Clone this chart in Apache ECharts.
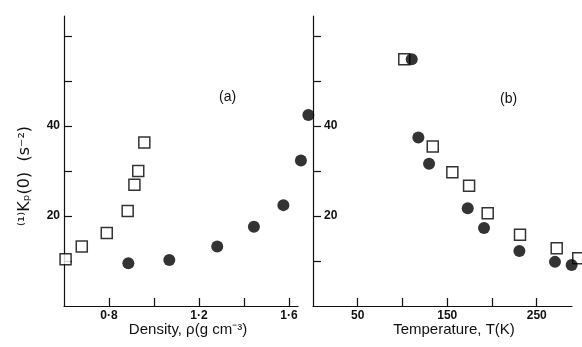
<!DOCTYPE html>
<html><head><meta charset="utf-8">
<script src="https://cdn.jsdelivr.net/npm/echarts@6/dist/echarts.min.js"></script>
<style>html,body{margin:0;padding:0;background:#fff}#c{width:582px;height:347px}</style>
</head><body><div id="c"></div>
<script>
// Panel (a): density
const densitySquares = [[0.607,10.4],[0.679,13.2],[0.790,16.2],[0.883,21.1],[0.913,26.9],[0.930,30.0],[0.957,36.3]];
const densityCircles = [[0.886,9.5],[1.068,10.2],[1.281,13.2],[1.444,17.6],[1.575,22.4],[1.653,32.3],[1.686,42.4]];
// Panel (b): temperature
const tempSquares = [[102,54.8],[133.8,35.4],[155.7,29.7],[174.4,26.7],[195.2,20.6],[231.3,15.8],[272.3,12.8],[296.4,10.6]];
const tempCircles = [[110.3,54.8],[117.7,37.4],[129.7,31.6],[172.9,21.7],[191.1,17.3],[230.6,12.2],[270.4,9.8],[289,9.1]];
const densityTicks = [0.8,1.0,1.2,1.4,1.6];
const densityLabels = [0.8,1.2,1.6];
const tempTicks = [50,100,150,200,250];
const tempLabels = [50,150,250];
const yTicks = [10,20,30,40,50,60];
const yLabels = [20,40];

const ink = '#111';
const font = 'Liberation Sans';
const axisLine = {show:true, lineStyle:{color:ink, width:1.2}};
const tick = (vals)=>({show:true, inside:true, length:8, customValues:vals, lineStyle:{color:ink, width:1.2}});
const lab = (vals, extra)=>Object.assign({show:true, customValues:vals, color:ink, fontFamily:font, fontSize:12, fontWeight:'bold',
  formatter:v=>String(v).replace('.', '·')}, extra||{});

const chart = echarts.init(document.getElementById('c'), null, {renderer:'canvas'});
const sq = {symbol:'rect', symbolSize:11, itemStyle:{color:'#fff', borderColor:'#000', borderWidth:1.5}};
const ci = {symbol:'circle', symbolSize:12, itemStyle:{color:'#000'}};
chart.setOption({
  backgroundColor:'#fff',
  animation:false,
  grid:[
    {left:64, top:16, width:234, height:290},
    {left:313, top:16, width:259, height:290}
  ],
  xAxis:[
    {gridIndex:0, type:'value', min:0.6, max:1.64, splitLine:{show:false}, axisLine, axisTick:tick(densityTicks),
     axisLabel:lab(densityLabels,{margin:4})},
    {gridIndex:1, type:'value', min:0, max:289.4, splitLine:{show:false}, axisLine, axisTick:tick(tempTicks),
     axisLabel:lab(tempLabels,{margin:4, formatter:v=>String(v)})}
  ],
  yAxis:[
    {gridIndex:0, type:'value', min:0, max:64.4, splitLine:{show:false}, axisLine, axisTick:tick(yTicks),
     axisLabel:lab(yLabels,{margin:4})},
    {gridIndex:1, type:'value', min:0, max:64.4, splitLine:{show:false}, axisLine, axisTick:tick(yTicks),
     axisLabel:lab(yLabels,{inside:true, margin:11})}
  ],
  series:[
    Object.assign({type:'scatter', xAxisIndex:0, yAxisIndex:0, data:densitySquares, clip:false}, sq),
    Object.assign({type:'scatter', xAxisIndex:0, yAxisIndex:0, data:densityCircles, clip:false}, ci),
    Object.assign({type:'scatter', xAxisIndex:1, yAxisIndex:1, data:tempSquares, clip:false}, sq),
    Object.assign({type:'scatter', xAxisIndex:1, yAxisIndex:1, data:tempCircles, clip:false}, ci)
  ],
  graphic:[
    {type:'text', left:219, top:90, style:{text:'(a)', font:'14px "Liberation Sans"', fill:ink}},
    {type:'text', left:500, top:92, style:{text:'(b)', font:'14px "Liberation Sans"', fill:ink}},
    {type:'text', x:188, y:330, style:{text:'Density, ρ(g cm⁻³)', font:'15px "Liberation Sans"', fill:ink, align:'center', verticalAlign:'middle'}},
    {type:'text', x:454, y:330, style:{text:'Temperature, T(K)', font:'15px "Liberation Sans"', fill:ink, align:'center', verticalAlign:'middle'}},
    {type:'text', x:25, y:176, rotation:Math.PI/2, style:{text:'⁽¹⁾Kₚ(0)  (s⁻²)', font:'16px "DejaVu Sans"', fill:ink, align:'center', verticalAlign:'middle'}}
  ]
});
</script></body></html>
